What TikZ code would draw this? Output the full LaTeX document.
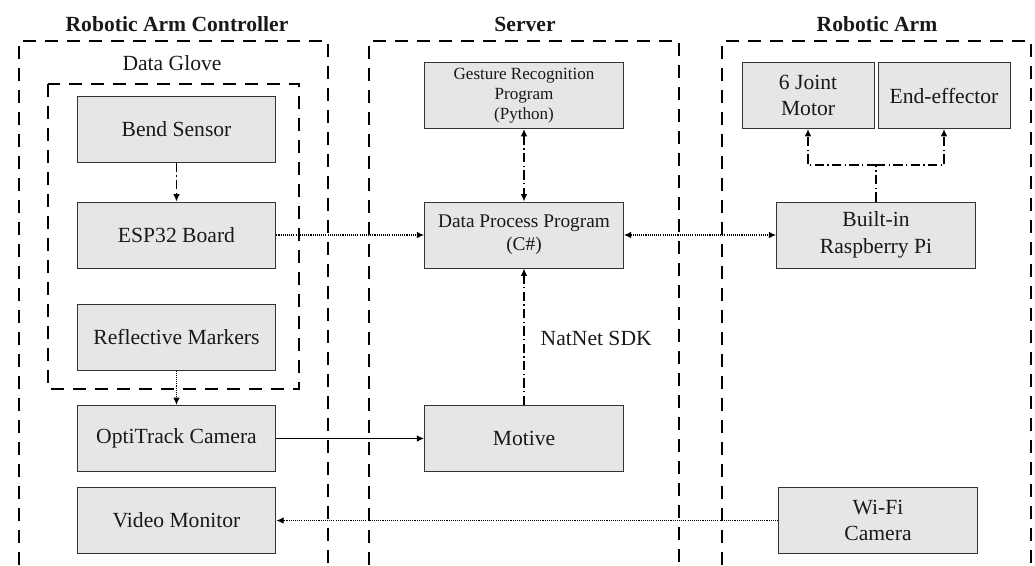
\documentclass[tikz,border=0pt]{standalone}
\usepackage{fontspec}
\setmainfont{Liberation Serif}
\usetikzlibrary{arrows.meta}
\definecolor{boxgray}{HTML}{E6E6E6}
\begin{document}
\begin{tikzpicture}[x=0.75pt,y=-0.75pt,
  box/.style={draw=black!80, line width=0.75pt, fill=boxgray, inner sep=0pt,
    minimum width=149pt, minimum height=49.5pt, align=center,
    font=\fontsize{16.2}{20}\selectfont, text=black!90},
  smallbox/.style={box, minimum width=99pt},
  grp/.style={line width=1.4pt, dash pattern=on 10pt off 6.5pt},
  conn/.style={line width=1pt, black},
  dotl/.style={conn, dash pattern=on 0.8pt off 0.8pt},
  ddl/.style={conn, dash pattern=on 7pt off 2.5pt on 1pt off 2.5pt},
  tipE/.style={-{Latex[length=5.5pt,width=5pt]}},
  tipB/.style={{Latex[length=5.5pt,width=5pt]}-{Latex[length=5.5pt,width=5pt]}},
  title/.style={font=\fontsize{16.2}{20}\selectfont\bfseries, text=black!90},
  lbl/.style={font=\fontsize{16.2}{20}\selectfont, text=black!90}
]
\useasboundingbox (0,0) rectangle (1035,565);

% group frames
\draw[grp] (19,565) -- (19,41) -- (328,41) -- (328,565);
\draw[grp] (369,565) -- (369,41) -- (679,41) -- (679,565);
\draw[grp] (722,565) -- (722,41) -- (1031,41) -- (1031,565);
\draw[grp] (48,84) rectangle (299,389);

% titles
\node[title] (t1) at (177,24) {Robotic Arm Controller};
\node[title] (t2) at (525,24) {Server};
\node[title] (t3) at (877,24) {Robotic Arm};
\node[lbl] (tg) at (172,63) {Data Glove};

% controller boxes
\node[box] (bend) at (176.5,129) {Bend Sensor};
\node[box] (esp) at (176.5,235) {ESP32 Board};
\node[box] (refl) at (176.5,337) {Reflective Markers};
\node[box] (opti) at (176.5,438.5) {OptiTrack Camera};
\node[box] (vmon) at (176.5,520.5) {Video Monitor};

% server boxes
\node[box, font=\fontsize{12.8}{15}\selectfont] (gest) at (524,95.5) {Gesture Recognition\\Program\\(Python)};
\node[box, font=\fontsize{14.5}{17.3}\selectfont] (dpp) at (524,235) {Data Process Program\\(C\#)};
\node[box] (motive) at (524,438.5) {Motive};

% robotic arm boxes
\node[smallbox] (motor) at (808,95.5) {6 Joint\\Motor};
\node[smallbox] (ee) at (944,95.5) {End-effector};
\node[box] (rpi) at (876,235) {Built-in\\Raspberry Pi};
\node[box] (wifi) at (878,520.5) {Wi-Fi\\Camera};

% connectors
\draw[ddl, tipE] (bend) -- (esp);
\draw[dotl, tipE] (esp) -- (dpp);
\draw[dotl, tipB] (dpp) -- (rpi);
\draw[ddl, tipB] (gest) -- (dpp);
\draw[ddl, tipE] (motive) -- (dpp);
\node[lbl, anchor=west] (natnet) at (536,338) {NatNet SDK};
\draw[dotl, tipE] (refl) -- (opti);
\draw[conn, tipE] (opti) -- (motive);
\draw[dotl, tipE] (wifi) -- (vmon);
\coordinate (j) at (876,165);
\draw[ddl] (rpi.north) -- (j);
\draw[ddl, tipE] (j) -| (motor.south);
\draw[ddl, tipE] (j) -| (ee.south);
\end{tikzpicture}
\end{document}
